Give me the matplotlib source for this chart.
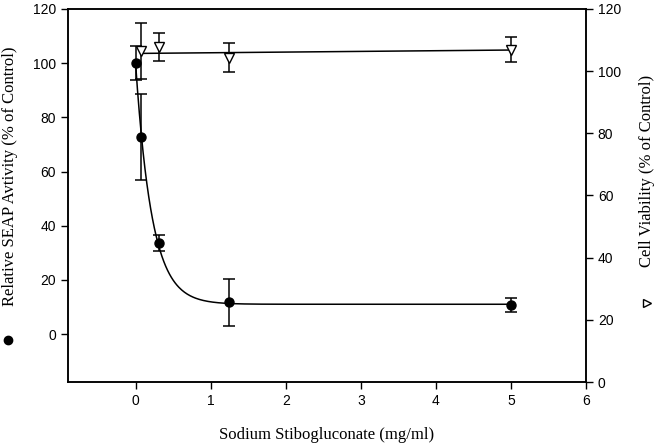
import numpy as np
import matplotlib.pyplot as plt
from matplotlib.lines import Line2D

# SEAP activity (left axis)
seap_x = [0.0, 0.078, 0.3125, 1.25, 5.0]
seap_y = [100.0, 72.7, 33.6, 11.8, 10.7]
seap_err = [6.3, 16.0, 3.1, 8.7, 2.6]

# cell viability (right axis)
via_x = [0.078, 0.3125, 1.25, 5.0]
via_y = [106.5, 107.8, 104.3, 106.9]
via_err = [9.0, 4.6, 4.7, 4.0]

# fitted curves: exponential decay and straight line
decay_params = (11.0, 89.0, 4.6)   # y0, a, b
line_params = (105.7, 0.22)        # intercept, slope

sans = ['Liberation Sans', 'DejaVu Sans']
serif = ['Liberation Serif', 'DejaVu Serif']

fig = plt.figure(figsize=(6.57, 4.44), dpi=100)
ax = fig.add_axes([68 / 657, 1 - 382 / 444, (586 - 68) / 657, (382 - 9) / 444])
ax2 = ax.twinx()

xs = np.linspace(0, 5, 400)
y0, a, b = decay_params
ax.plot(xs, y0 + a * np.exp(-b * xs), color='black', lw=1.1)
ax.errorbar(seap_x, seap_y, yerr=seap_err, fmt='o', color='black', ms=6.5,
            capsize=4.5, elinewidth=1.1, capthick=1.1)

xl = np.linspace(via_x[0], 5, 50)
ax2.plot(xl, line_params[0] + line_params[1] * xl, color='black', lw=1.1)
ax2.errorbar(via_x, via_y, yerr=via_err, fmt='v', color='black', mfc='white',
             ms=6.5, capsize=4.5, elinewidth=1.1, capthick=1.1)

ax.set_xlim(-0.9, 6)
ax.set_ylim(-17.7, 120)
ax2.set_ylim(0, 120)
ax.set_xticks(range(0, 7))
ax.set_yticks(range(0, 121, 20))
ax2.set_yticks(range(0, 121, 20))

for a_ in (ax, ax2):
    a_.tick_params(direction='out', length=5, width=1, labelsize=10)
    for lab in a_.get_xticklabels() + a_.get_yticklabels():
        lab.set_family(sans)
    for s in a_.spines.values():
        s.set_linewidth(1.1)

ax.set_xlabel('Sodium Stibogluconate (mg/ml)', family=serif, fontsize=12, labelpad=14)

fig.text(10 / 657, 1 - 176 / 444, 'Relative SEAP Avtivity (% of Control)', rotation=90,
         family=serif, fontsize=12, ha='center', va='center')
fig.add_artist(Line2D([8 / 657], [1 - 340 / 444], marker='o', color='black', ms=6,
                      transform=fig.transFigure))
fig.text(647 / 657, 1 - 171 / 444, 'Cell Viability (% of Control)', rotation=90,
         family=serif, fontsize=12, ha='center', va='center')
fig.add_artist(Line2D([647 / 657], [1 - 303 / 444], marker='>', color='black',
                      mfc='white', ms=6, transform=fig.transFigure))

fig.savefig('out.png', dpi=100)
